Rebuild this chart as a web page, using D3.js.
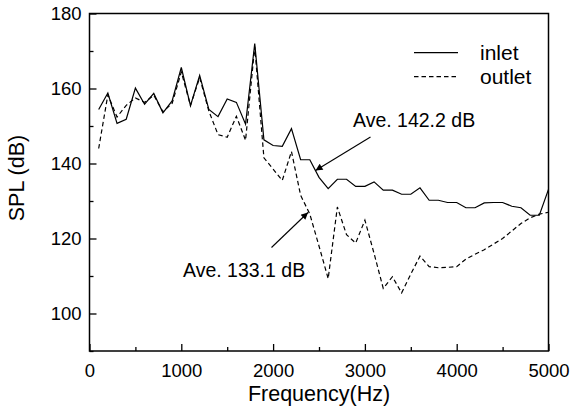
<!DOCTYPE html>
<html>
<head>
<meta charset="utf-8">
<script src="https://cdn.jsdelivr.net/npm/d3@7"></script>
<style>
  html, body { margin: 0; padding: 0; background: #fff; }
  svg { display: block; }
  text { font-family: "Liberation Sans", Arial, sans-serif; fill: #000; }
</style>
</head>
<body>
<svg id="chart" width="572" height="416"></svg>
<script>
// ---- data ----
const frequencies = d3.range(100, 5001, 100);
const inletSPL = [
  154.4, 158.8, 150.7, 151.8, 160.1, 155.8, 158.7, 153.5, 156.7, 165.6,
  155.4, 163.5, 154.4, 152.5, 157.2, 156.3, 150.5, 172.0, 146.3, 144.8,
  144.6, 149.3, 141.0, 141.0, 136.3, 133.3, 135.8, 135.8, 133.9, 133.9,
  135.1, 132.9, 132.9, 131.8, 131.8, 133.5, 130.2, 130.2, 129.6, 129.6,
  128.2, 128.2, 129.5, 129.6, 129.6, 128.6, 128.2, 126.2, 126.2, 133.1
];
const outletSPL = [
  144.0, 158.3, 152.4, 155.5, 157.5, 156.3, 158.2, 153.8, 156.0, 164.4,
  155.5, 162.9, 154.0, 147.7, 147.0, 152.6, 146.2, 171.1, 141.5, 138.5,
  135.5, 143.2, 131.5, 126.5, 118.0, 109.3, 128.4, 121.0, 118.8, 124.9,
  116.0, 106.7, 109.8, 105.5, 110.5, 115.3, 112.5, 112.2, 112.3, 112.5,
  114.5, 115.8, 117.0, 118.5, 120.0, 122.0, 124.0, 125.5, 126.5, 127.0
];
const xTicks = [0, 1000, 2000, 3000, 4000, 5000];
const xMinorTicks = [500, 1500, 2500, 3500, 4500];
const yTicks = [100, 120, 140, 160, 180];
const yMinorTicks = [90, 110, 130, 150, 170];
const seriesNames = ["inlet", "outlet"];
const annotations = [
  { text: "Ave. 142.2 dB", series: "inlet" },
  { text: "Ave. 133.1 dB", series: "outlet" }
];

// ---- layout ----
const svg = d3.select("#chart");
const L = 89.5, R = 548.5, T = 13.5, B = 351;
const x = d3.scaleLinear().domain([0, 5000]).range([L, R]);
const y = d3.scaleLinear().domain([90, 180]).range([B, T]);
const fontTick = 18.5;

// frame
svg.append("rect").attr("x", L).attr("y", T).attr("width", R - L).attr("height", B - T)
  .attr("fill", "none").attr("stroke", "#000").attr("stroke-width", 1.5);

// bottom axis (ticks inward)
const gx = svg.append("g").attr("transform", `translate(0,${B})`)
  .call(d3.axisBottom(x).tickValues(xTicks).tickSize(-7).tickPadding(12).tickFormat(d3.format("d")));
gx.select(".domain").remove();
gx.selectAll("line").attr("stroke", "#000").attr("stroke-width", 1.3);
gx.selectAll("text").attr("font-size", fontTick).attr("dy", "0.71em").attr("y", 13);
svg.append("g").attr("transform", `translate(0,${B})`)
  .call(d3.axisBottom(x).tickValues(xMinorTicks).tickSize(-4).tickFormat(""))
  .call(g => g.select(".domain").remove())
  .selectAll("line").attr("stroke", "#000").attr("stroke-width", 1.3);

// left axis (ticks inward)
const gy = svg.append("g").attr("transform", `translate(${L},0)`)
  .call(d3.axisLeft(y).tickValues(yTicks).tickSize(-7).tickPadding(8).tickFormat(d3.format("d")));
gy.select(".domain").remove();
gy.selectAll("line").attr("stroke", "#000").attr("stroke-width", 1.3);
gy.selectAll("text").attr("font-size", fontTick).attr("x", -8);
svg.append("g").attr("transform", `translate(${L},0)`)
  .call(d3.axisLeft(y).tickValues(yMinorTicks).tickSize(-4).tickFormat(""))
  .call(g => g.select(".domain").remove())
  .selectAll("line").attr("stroke", "#000").attr("stroke-width", 1.3);

// axis titles
svg.append("text").attr("x", (L + R) / 2).attr("y", 401).attr("text-anchor", "middle")
  .attr("font-size", 21.5).text("Frequency(Hz)");
svg.append("text").attr("transform", "translate(24,178) rotate(-90)").attr("text-anchor", "middle")
  .attr("font-size", 21.5).text("SPL (dB)");

// lines
const line = d3.line().x((d, i) => x(frequencies[i])).y(d => y(d));
const dashes = { inlet: null, outlet: "4.5,3" };
const seriesData = { inlet: inletSPL, outlet: outletSPL };
seriesNames.forEach(name => {
  svg.append("path").datum(seriesData[name]).attr("d", line)
    .attr("fill", "none").attr("stroke", "#000").attr("stroke-width", 1.2)
    .attr("stroke-dasharray", dashes[name]).attr("stroke-linejoin", "miter");
});

// legend
const leg = svg.append("g");
seriesNames.forEach((name, i) => {
  const ly = 52.7 + i * 24;
  leg.append("line").attr("x1", 414).attr("x2", 458).attr("y1", ly).attr("y2", ly)
    .attr("stroke", "#000").attr("stroke-width", 1.2).attr("stroke-dasharray", dashes[name]);
  leg.append("text").attr("x", 480).attr("y", ly + 7.5).attr("font-size", 21).text(name);
});

// annotations
const defs = svg.append("defs");
defs.append("marker").attr("id", "arrow").attr("viewBox", "0 0 10 10")
  .attr("refX", 10).attr("refY", 5).attr("markerWidth", 9).attr("markerHeight", 7)
  .attr("markerUnits", "userSpaceOnUse").attr("orient", "auto")
  .append("path").attr("d", "M0,0 L10,5 L0,10 Z").attr("fill", "#000");

const annPos = [
  { tx: 353, ty: 127, x1: 370.5, y1: 137, x2: 315.5, y2: 170.5 },
  { tx: 183, ty: 277, x1: 271.5, y1: 247.5, x2: 308, y2: 212.5 }
];
annotations.forEach((a, i) => {
  const p = annPos[i];
  svg.append("text").attr("x", p.tx).attr("y", p.ty).attr("font-size", 19.5).text(a.text);
  svg.append("line").attr("x1", p.x1).attr("y1", p.y1).attr("x2", p.x2).attr("y2", p.y2)
    .attr("stroke", "#000").attr("stroke-width", 1.1).attr("marker-end", "url(#arrow)");
});
</script>
</body>
</html>
